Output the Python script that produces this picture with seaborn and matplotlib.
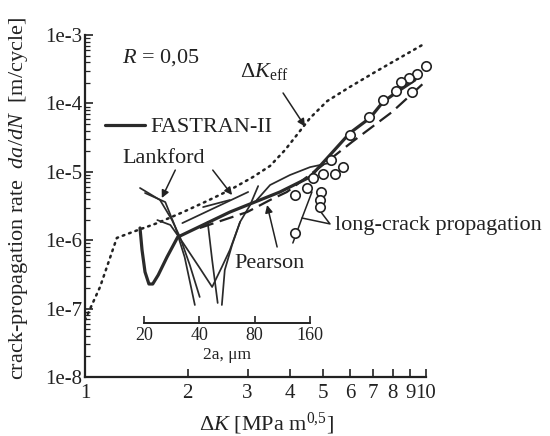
import matplotlib
matplotlib.use("Agg")
import numpy as np
import pandas as pd
import matplotlib.pyplot as plt
from matplotlib.lines import Line2D
from matplotlib.ticker import LogLocator, NullLocator, FixedLocator, FixedFormatter
import seaborn as sns

# ---- data: stress-intensity range dK [MPa m^0.5] vs. growth rate da/dN [m/cycle] ----
# effective stress-intensity curve (dotted)
dk_eff = [1.00, 1.107, 1.24, 1.38, 1.63, 1.94, 2.28, 2.66, 3.11, 3.49, 3.86, 4.18, 4.57, 5.13, 5.98, 7.18, 9.73]
dadn_eff = [6.8e-8, 2.07e-7, 1.08e-6, 1.32e-6, 1.78e-6, 2.58e-6, 3.74e-6, 5.42e-6, 8.4e-6,
            1.22e-5, 2.08e-5, 3.45e-5, 6.1e-5, 1.08e-4, 1.74e-4, 2.98e-4, 7.1e-4]

# FASTRAN-II prediction (thick solid)
fastran_dk = [1.45, 1.47, 1.50, 1.54, 1.58, 1.64, 1.74, 1.87, 2.66, 3.73, 4.57, 5.23, 5.98, 6.85, 7.48, 8.22, 9.28]
fastran_dadn = [1.51e-6, 7.2e-7, 3.43e-7, 2.29e-7, 2.29e-7, 3.10e-7, 5.67e-7, 1.11e-6, 2.58e-6,
                5.07e-6, 8.4e-6, 1.76e-5, 3.69e-5, 6.12e-5, 1.05e-4, 1.47e-4, 2.20e-4]

# Pearson small-crack data (dashed)
pearson_dk = [2.17, 2.45, 2.99, 3.49, 3.91, 4.89, 6.07, 7.95, 9.93]
pearson_dadn = [1.51e-6, 1.85e-6, 2.58e-6, 3.87e-6, 5.07e-6, 1.17e-5, 2.73e-5, 7.48e-5, 2.06e-4]

# long-crack propagation data (open circles)
long_dk = [10.0, 9.41, 8.92, 8.45, 9.10, 8.17, 7.48, 6.80, 5.98, 5.27, 5.71, 5.41, 4.99,
           4.66, 4.48, 4.13, 4.92, 4.89, 4.89, 4.13]
long_dadn = [3.52e-4, 2.69e-4, 2.35e-4, 2.06e-4, 1.47e-4, 1.52e-4, 1.12e-4, 6.32e-5, 3.45e-5,
             1.49e-5, 1.17e-5, 9.29e-6, 9.29e-6, 8.11e-6, 5.80e-6, 4.58e-6, 5.07e-6, 3.87e-6,
             3.05e-6, 1.27e-6]

# Lankford small-crack data (thin solid), one list per crack
lankford_dk = [
    [1.45, 1.66, 1.80, 1.90, 2.03, 2.17],
    [1.50, 1.72, 1.84, 1.96, 2.10],
    [1.63, 1.78, 1.94, 2.17, 2.36, 2.52, 2.66, 2.85, 3.05, 3.22],
    [2.29, 2.36, 2.45],
    [2.85, 2.70, 2.57, 2.52],
    [1.93, 3.01],
    [2.22, 2.66],
    [3.19, 3.49, 3.99, 4.57, 5.23],
]
lankford_dadn = [
    [5.8e-6, 3.87e-6, 1.97e-6, 1.11e-6, 4.33e-7, 1.48e-7],
    [4.9e-6, 3.61e-6, 1.56e-6, 5.67e-7, 1.13e-7],
    [1.97e-6, 1.67e-6, 9.10e-7, 3.93e-7, 2.07e-7, 4.06e-7, 7.2e-7, 1.85e-6, 3.27e-6, 6.19e-6],
    [1.85e-6, 5.14e-7, 1.21e-7],
    [1.85e-6, 8.51e-7, 3.66e-7, 1.13e-7],
    [1.78e-6, 5.07e-6],
    [3.05e-6, 3.87e-6],
    [3.87e-6, 6.41e-6, 8.97e-6, 1.17e-5, 1.35e-5],
]

# leader lines of the long-crack label
leader_a_dk, leader_a_dadn = [4.63, 4.33, 4.07], [5.07e-6, 2.11e-6, 9.10e-7]
leader_b_dk, leader_b_dadn = [4.33, 5.23, 4.92], [2.11e-6, 1.73e-6, 2.58e-6]

x_ticks = [1, 2, 3, 4, 5, 6, 7, 8, 9, 10]
y_ticks = [1e-8, 1e-7, 1e-6, 1e-5, 1e-4, 1e-3]
y_ticklabels = ["1e-8", "1e-7", "1e-6", "1e-5", "1e-4", "1e-3"]
crack_ticks = [20, 40, 80, 160]

# ---- styling ----
sns.set_theme(style="ticks")
plt.rcParams["font.family"] = ["Liberation Serif", "DejaVu Serif"]
plt.rcParams["mathtext.fontset"] = "custom"
plt.rcParams["mathtext.rm"] = "Liberation Serif"
plt.rcParams["mathtext.it"] = "Liberation Serif:italic"
plt.rcParams["mathtext.bf"] = "Liberation Serif:bold"

ink = "#222222"
fig = plt.figure(figsize=(5.5, 4.36), dpi=100)
ax = fig.add_axes([0.1545, 0.1353, 0.62, 0.7844])
ax.set_xscale("log")
ax.set_yscale("log")

sns.lineplot(x=dk_eff, y=dadn_eff, ax=ax, color=ink, lw=1.8, sort=False, estimator=None,
             linestyle=(0, (0.7, 2.0)), dash_capstyle="round")

lank = pd.DataFrame({
    "dk": [v for c in lankford_dk for v in c],
    "dadn": [v for c in lankford_dadn for v in c],
    "crack": [i for i, c in enumerate(lankford_dk) for _ in c],
})
sns.lineplot(data=lank, x="dk", y="dadn", units="crack", estimator=None, sort=False,
             ax=ax, color="#2a2a2a", lw=1.25)

sns.lineplot(x=pearson_dk, y=pearson_dadn, ax=ax, color=ink, lw=1.6, sort=False,
             estimator=None, linestyle=(0, (6.5, 3.0)))
sns.lineplot(x=fastran_dk, y=fastran_dadn, ax=ax, color="#2a2a2a", lw=2.3, sort=False,
             estimator=None)

for lx, ly in [(leader_a_dk, leader_a_dadn), (leader_b_dk, leader_b_dadn)]:
    sns.lineplot(x=lx, y=ly, ax=ax, color=ink, lw=1.1, sort=False, estimator=None)

sns.scatterplot(x=long_dk, y=long_dadn, ax=ax, s=46, facecolor="white",
                edgecolor=ink, linewidth=1.2, zorder=5, clip_on=False)

# ---- axes ----
ax.set_xlim(1, 10)
ax.set_ylim(1e-8, 1e-3)
ax.xaxis.set_major_locator(FixedLocator(x_ticks))
ax.xaxis.set_major_formatter(FixedFormatter([str(v) for v in x_ticks]))
ax.xaxis.set_minor_locator(NullLocator())
ax.yaxis.set_major_locator(FixedLocator(y_ticks))
ax.yaxis.set_major_formatter(FixedFormatter(y_ticklabels))
ax.yaxis.set_minor_locator(LogLocator(base=10, subs=np.arange(2, 10), numticks=20))
ax.tick_params(axis="both", which="major", direction="in", length=6, width=1.2,
               labelsize=15, colors=ink)
ax.tick_params(axis="y", which="major", pad=2)
ax.tick_params(axis="x", which="major", pad=5)
ax.tick_params(axis="y", which="minor", direction="in", length=3.5, width=0.9, colors=ink)
for side in ["top", "right"]:
    ax.spines[side].set_visible(False)
for side in ["left", "bottom"]:
    ax.spines[side].set_linewidth(1.6)
    ax.spines[side].set_color(ink)
ax.set_facecolor("white")

ax.set_xlabel(r"Δ$K$ [MPa m$^{0{,}5}$]", fontsize=16, color=ink)
ax.xaxis.set_label_coords(0.531, -0.100)
ax.set_ylabel(r"crack-propagation rate  $da/dN$  [m/cycle]", fontsize=16, color=ink)
ax.yaxis.set_label_coords(-0.162, 0.522)

# crack-length scale
ins = ax.inset_axes([0.173, 0.158, 0.487, 0.05])
ins.set_xscale("log", base=2)
ins.set_xlim(crack_ticks[0], crack_ticks[-1])
ins.xaxis.set_major_locator(FixedLocator(crack_ticks))
ins.xaxis.set_major_formatter(FixedFormatter([str(v) for v in crack_ticks]))
ins.xaxis.set_minor_locator(NullLocator())
ins.set_yticks([])
ins.patch.set_alpha(0)
for side in ["top", "right", "left"]:
    ins.spines[side].set_visible(False)
ins.spines["bottom"].set_linewidth(1.4)
ins.spines["bottom"].set_color(ink)
ins.tick_params(axis="x", direction="in", length=5, width=1.2, labelsize=13, pad=3, colors=ink)
ins.set_xlabel("2a, μm", fontsize=12.5, color=ink, labelpad=2)

# ---- annotations ----
ax.text(0.109, 0.933, r"$R$ = 0,05", transform=ax.transAxes, fontsize=16, color=ink,
        ha="left", va="center")
ax.text(0.455, 0.893, r"Δ$K_{\mathrm{eff}}$", transform=ax.transAxes, fontsize=16, color=ink,
        ha="left", va="center")
ax.text(0.232, 0.640, "Lankford", transform=ax.transAxes, fontsize=16, color=ink,
        ha="center", va="center")
ax.text(0.540, 0.333, "Pearson", transform=ax.transAxes, fontsize=16, color=ink,
        ha="center", va="center")
ax.text(0.733, 0.442, "long-crack propagation", transform=ax.transAxes, fontsize=16,
        color=ink, ha="left", va="center")

arrow = dict(arrowstyle="-|>", color=ink, lw=1.1, mutation_scale=11, shrinkA=0, shrinkB=0)
ax.annotate("", xy=(4.42, 4.6e-5), xytext=(3.81, 1.42e-4), arrowprops=arrow)
ax.annotate("", xy=(1.68, 4.14e-6), xytext=(1.84, 1.06e-5), arrowprops=arrow)
ax.annotate("", xy=(2.70, 4.58e-6), xytext=(2.37, 1.06e-5), arrowprops=arrow)
ax.annotate("", xy=(3.42, 3.27e-6), xytext=(3.66, 7.96e-7), arrowprops=arrow)

ax.legend(handles=[Line2D([], [], color="#2a2a2a", lw=2.3)], labels=["FASTRAN-II"],
          loc="center left", bbox_to_anchor=(0.059, 0.731), frameon=False, fontsize=16,
          handlelength=1.8, handletextpad=0.25, borderpad=0, borderaxespad=0,
          labelcolor=ink)

fig.savefig("out.png", dpi=100, facecolor="white")
